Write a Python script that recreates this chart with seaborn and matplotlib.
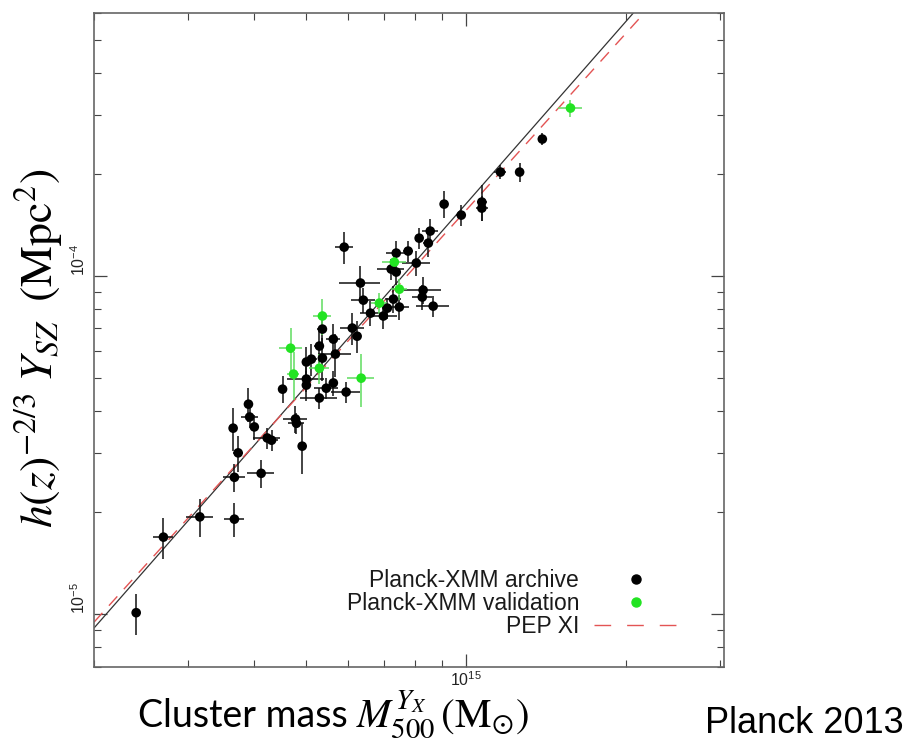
import numpy as np
import pandas as pd
import matplotlib
matplotlib.use("Agg")
import matplotlib.pyplot as plt
from matplotlib.lines import Line2D
from matplotlib import ticker
import seaborn as sns

# ---------------- data ----------------
# Planck-XMM archive sample: mass [1e14 Msun], Y [1e-5 Mpc^2], errors in percent
archive_mass = [2.40, 2.70, 3.16, 3.67, 3.67, 4.12, 3.73, 4.92, 4.23, 4.31,
                3.65, 3.90, 3.92, 4.00, 4.52, 4.78, 4.80, 5.01, 5.12, 5.37,
                5.30, 5.37, 5.63, 5.68, 5.01, 5.01, 5.46, 5.30, 5.63, 5.95,
                6.11, 6.24, 5.90, 6.33, 6.41, 6.61, 6.99, 7.11, 7.30, 7.49,
                7.39, 7.23, 7.39, 7.78, 8.06, 8.16, 8.49, 8.56, 8.30, 8.27,
                8.67, 9.09, 9.79, 10.7, 10.7, 11.6, 12.6, 13.9]
archive_ysz = [1.01, 1.69, 1.94, 1.91, 2.54, 2.61, 3.00, 3.14, 3.32, 3.27,
               3.55, 4.18, 3.83, 3.58, 4.63, 3.78, 3.67, 5.57, 5.68, 5.72,
               6.21, 6.97, 6.51, 5.88, 4.96, 4.76, 4.66, 4.36, 4.83, 4.54,
               7.02, 6.64, 12.18, 9.54, 8.49, 7.77, 7.62, 8.04, 8.55, 8.10,
               11.70, 10.49, 10.28, 11.86, 10.93, 12.95, 12.52, 13.59, 9.09, 8.67,
               8.15, 16.33, 15.15, 16.56, 15.89, 20.31, 20.31, 25.43]
archive_mass_err_pct = [1.7, 4.4, 5.8, 4.4, 4.9, 5.8, 2.2, 1.7, 5.8, 2.6,
                        1.7, 1.7, 3.5, 1.7, 1.7, 5.3, 3.5, 1.7, 2.6, 1.7,
                        2.2, 2.2, 3.1, 7.2, 8.1, 1.7, 5.3, 8.1, 1.7, 6.2,
                        5.3, 1.7, 4.0, 9.0, 5.3, 4.4, 6.2, 2.2, 3.5, 4.4,
                        4.4, 5.8, 2.2, 2.2, 6.2, 1.7, 2.2, 3.5, 8.1, 4.4,
                        7.2, 1.7, 2.2, 2.2, 2.6, 2.6, 1.7, 1.7]
archive_ysz_err_pct = [13.8, 13.8, 13.0, 11.5, 9.3, 9.3, 12.3, 17.0, 7.0, 7.0,
                       14.6, 11.5, 7.0, 8.5, 9.3, 9.3, 7.0, 10.7, 10.7, 14.6,
                       10.7, 10.7, 10.7, 14.6, 8.5, 10.0, 7.0, 7.0, 8.5, 7.0,
                       10.7, 10.7, 10.7, 12.3, 8.5, 8.5, 8.5, 7.0, 9.3, 8.5,
                       8.5, 7.0, 8.5, 7.0, 8.5, 7.0, 9.3, 8.5, 9.3, 8.5,
                       7.0, 9.3, 7.0, 12.0, 8.5, 4.9, 6.3, 4.2]

# Planck-XMM validation sample
valid_mass = [4.68, 4.74, 5.37, 5.30, 6.35, 6.87, 7.33, 7.49, 15.7]
valid_ysz = [6.12, 5.13, 7.62, 5.34, 4.99, 8.32, 11.00, 9.15, 31.41]
valid_mass_err_pct = [4.9, 2.6, 4.0, 4.4, 5.8, 3.5, 5.3, 3.5, 5.3]
valid_ysz_err_pct = [14.6, 16.2, 12.3, 10.0, 17.8, 7.0, 7.0, 7.0, 5.6]

# best-fit relation (solid) and PEP XI relation (dashed): end points
fit_mass = [2.0e14, 2.06e15]
fit_ysz = [9.1e-6, 6.0e-4]
pep_mass = [2.0e14, 2.16e15]
pep_ysz = [9.47e-6, 6.0e-4]

legend_labels = ["Planck-XMM archive", "Planck-XMM validation", "PEP XI"]
sample_names = ["archive", "validation"]

# ---------------- build table ----------------
df = pd.concat([
    pd.DataFrame({"mass": np.array(archive_mass) * 1e14,
                  "ysz": np.array(archive_ysz) * 1e-5,
                  "mass_err_pct": archive_mass_err_pct,
                  "ysz_err_pct": archive_ysz_err_pct,
                  "sample": sample_names[0]}),
    pd.DataFrame({"mass": np.array(valid_mass) * 1e14,
                  "ysz": np.array(valid_ysz) * 1e-5,
                  "mass_err_pct": valid_mass_err_pct,
                  "ysz_err_pct": valid_ysz_err_pct,
                  "sample": sample_names[1]}),
], ignore_index=True)
df["xerr"] = df["mass"] * df["mass_err_pct"] / 100.0
df["yerr"] = df["ysz"] * df["ysz_err_pct"] / 100.0

# ---------------- style ----------------
sns.set_theme(style="white")
plt.rcParams["font.family"] = ["Liberation Sans", "DejaVu Sans"]
plt.rcParams["mathtext.fontset"] = "stix"

BLACK = "#000000"
GREEN = "#22e322"
GREEN_ERR = "#5fdc5f"
RED = "#e35454"

fig = plt.figure(figsize=(9.12, 7.41), dpi=100)
ax = fig.add_axes([0.1031, 0.1005, 0.6908, 0.8819])
ax.set_xscale("log")
ax.set_yscale("log")

# fit lines
sns.lineplot(x=fit_mass, y=fit_ysz, color="#333333", lw=0.9, ax=ax, zorder=1)
sns.lineplot(x=pep_mass, y=pep_ysz, color=RED, lw=1.0,
             linestyle=(0, (9, 7)), ax=ax, zorder=1.5)

# error bars
err_colors = {"archive": "#111111", "validation": GREEN_ERR}
for name in sample_names:
    sub = df[df["sample"] == name]
    ax.errorbar(sub["mass"], sub["ysz"], xerr=sub["xerr"], yerr=sub["yerr"],
                fmt="none", ecolor=err_colors[name], elinewidth=1.1,
                capsize=0, zorder=2)

# points
sns.scatterplot(data=df, x="mass", y="ysz", hue="sample",
                palette={"archive": BLACK, "validation": GREEN},
                s=48, linewidth=0, legend=False, ax=ax, zorder=3)

ax.set_xlim(2.0e14, 3.05e15)
ax.set_ylim(7.0e-6, 6.0e-4)
ax.set_xlabel("")
ax.set_ylabel("")

# ticks
for axis in (ax.xaxis, ax.yaxis):
    axis.set_major_locator(ticker.LogLocator(base=10, numticks=10))
    axis.set_minor_locator(ticker.LogLocator(base=10, subs=np.arange(2, 10), numticks=20))
    axis.set_minor_formatter(ticker.NullFormatter())
    axis.set_major_formatter(ticker.LogFormatterSciNotation())
ax.tick_params(which="both", direction="in", top=True, right=True,
               bottom=True, left=True,
               color="#444444", labelcolor="#222222")
ax.tick_params(which="major", length=9.5, width=0.9, labelsize=11.5, pad=4)
ax.tick_params(axis="x", which="major", pad=3)
ax.tick_params(which="minor", length=5, width=0.8)
for lab in ax.get_yticklabels():
    lab.set_rotation(90)
    lab.set_va("bottom")
for sp in ax.spines.values():
    sp.set_color("#666666")
    sp.set_linewidth(1.2)

# legend (markers to the right of labels)
handles = [
    Line2D([], [], marker="o", color=BLACK, linestyle="none", markersize=6.5),
    Line2D([], [], marker="o", color=GREEN, linestyle="none", markersize=6.5),
    Line2D([], [], color=RED, lw=1.0, linestyle=(0, (12, 11.5))),
]
leg = ax.legend(handles, legend_labels, loc="lower right",
                bbox_to_anchor=(677 / 912, (741 - 638) / 741),
                bbox_transform=fig.transFigure, frameon=False,
                markerfirst=False, fontsize=16.5, handlelength=3.62,
                handletextpad=0.65, labelspacing=0.0, borderpad=0,
                borderaxespad=0)
for t in leg.get_texts():
    t.set_color("#1a1a1a")

# axis titles
fig.text(0.043, (741 - 348.5) / 741,
         r"$h(z)^{-2/3}\;Y_{SZ}\;\;(\mathrm{Mpc}^2)$",
         rotation=90, ha="center", va="center", fontsize=33, color="black")
fig.text(138 / 912, (741 - 727) / 741, "Cluster mass",
         ha="left", va="baseline", fontsize=27, color="black",
         family=["Lato", "DejaVu Sans"])
fig.text(356 / 912, (741 - 727) / 741,
         r"$M_{500}^{Y_X}\,(\mathrm{M}_{\odot})$",
         ha="left", va="baseline", fontsize=29.5, color="black")
fig.text(705 / 912, (741 - 733) / 741, "Planck 2013",
         ha="left", va="baseline", fontsize=26, color="black")

fig.savefig("out.png", dpi=100)
